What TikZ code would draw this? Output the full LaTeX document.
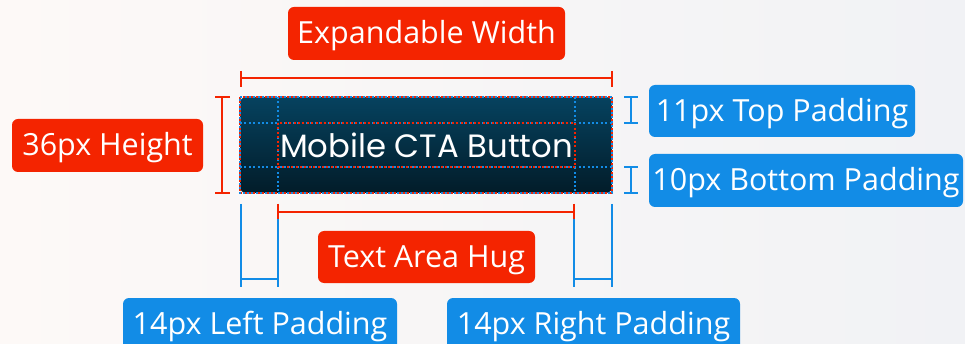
\documentclass[tikz,border=0pt]{standalone}
\usepackage{fontspec}
\setmainfont{Open Sans}
\newfontfamily\poppfont{Poppins}
\definecolor{cred}{HTML}{F42400}
\definecolor{cblue}{HTML}{128CE6}
\definecolor{btop}{HTML}{06425F}
\definecolor{bbot}{HTML}{021C29}
\definecolor{bgl}{HTML}{FDF9F7}
\definecolor{bgr}{HTML}{F1F2F5}
\begin{document}
\begin{tikzpicture}[x=1pt,y=-1pt,
  lab/.style={rounded corners=6pt, text=white, font=\fontsize{30.5}{32}\selectfont, inner sep=0pt, text height=21pt, text depth=0pt, minimum height=53pt},
  redlab/.style={lab, fill=cred},
  bluelab/.style={lab, fill=cblue},
  rdim/.style={draw=cred, line width=2.2pt},
  bdim/.style={draw=cblue, line width=2pt},
  bdot/.style={draw=cblue, line width=2.2pt, dash pattern=on 2pt off 2.4pt},
  rdot/.style={draw=cred, line width=2.2pt, dash pattern=on 2pt off 2.4pt}]
\useasboundingbox (0,0) rectangle (965,344);
\shade[left color=bgl, right color=bgr] (0,0) rectangle (965,344);
% button
\node[name=btn, minimum width=372pt, minimum height=96pt, inner sep=0pt, rounded corners=6pt, top color=btop, bottom color=bbot] at (426,145) {};
\draw[rdot] (btn.north west) rectangle (btn.south east);
\draw[bdot, dash phase=2pt] (btn.north west) rectangle (btn.south east);
\draw[bdot] (278,97) -- (278,193) (575,97) -- (575,193) (240,123) -- (612,123) (240,167) -- (612,167);
\draw[rdot] (278,123) rectangle (575,167);
\node[name=btntext, text=white, font=\poppfont\fontsize{32.3}{34}\selectfont, inner sep=0pt] at (426.5,145) {Mobile CTA Button};
% labels
\node[redlab, name=exp, minimum width=277pt] at (426.5,33.5) {Expandable Width};
\node[redlab, name=hgt, minimum width=191pt] at (107.5,145.5) {36px Height};
\node[bluelab, name=toppad, minimum width=266pt, minimum height=52pt] at (782,111) {11px Top Padding};
\node[bluelab, name=botpad, minimum width=314pt] at (806,180.5) {10px Bottom Padding};
\node[redlab, name=hug, minimum width=217pt, minimum height=52pt] at (426.5,257) {Text Area Hug};
\node[bluelab, name=lpad, minimum width=274pt, minimum height=52pt] at (260,324) {14px Left Padding};
\node[bluelab, name=rpad, minimum width=293pt, minimum height=52pt] at (593.5,324) {14px Right Padding};
% dimension lines
\draw[rdim] (241,78) -- (612,78) (241,71) -- (241,87) (612,71) -- (612,87);
\draw[rdim] (222,97) -- (222,193) (215,97) -- (230,97) (215,193) -- (230,193);
\draw[bdim] (631,97) -- (631,123) (624,97) -- (638,97) (624,123) -- (638,123);
\draw[bdim] (631,167) -- (631,193) (624,167) -- (638,167) (624,193) -- (638,193);
\draw[bdim] (241,204) -- (241,287) (278,204) -- (278,287) (241,279) -- (278,279);
\draw[bdim] (574,204) -- (574,287) (612,204) -- (612,287) (574,279) -- (612,279);
\draw[rdim] (278,212) -- (574,212) (278,204) -- (278,219) (574,204) -- (574,219);
\end{tikzpicture}
\end{document}
